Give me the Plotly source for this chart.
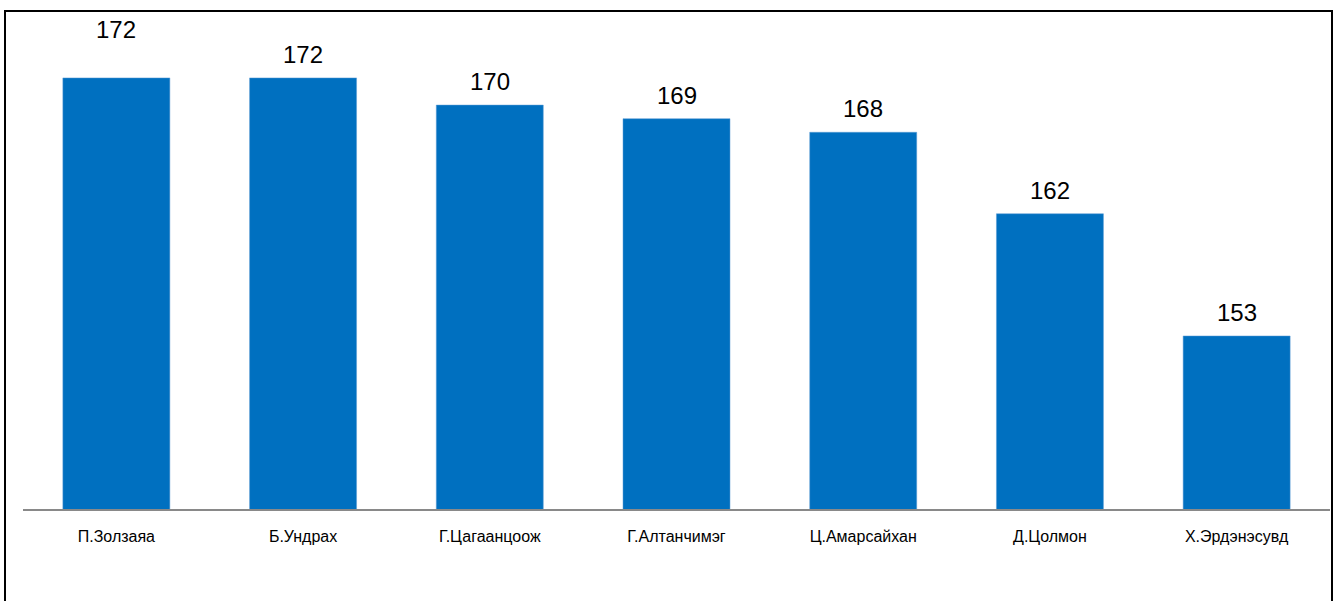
import plotly.graph_objects as go

names = ["П.Золзаяа", "Б.Ундрах", "Г.Цагаанцоож", "Г.Алтанчимэг", "Ц.Амарсайхан", "Д.Цолмон", "Х.Эрдэнэсувд"]
values = [172, 172, 170, 169, 168, 162, 153]

W, H = 1336, 601
ml, mr, mt, mb = 23, 6, 24, 92
pw, ph = W - ml - mr, H - mt - mb

fig = go.Figure()
fig.add_trace(go.Bar(
    x=names, y=values,
    marker=dict(color="#0070C0", line=dict(color="#5B9BD5", width=0.5)),
    width=0.573,
    hoverinfo="x+y",
))

for i, (n, v) in enumerate(zip(names, values)):
    fig.add_annotation(
        x=n, y=v, text=str(v), showarrow=False,
        yanchor="bottom", yshift=33 if i == 0 else 8,
        font=dict(family="Liberation Sans, Arial, sans-serif", size=24, color="#000000"),
    )

def px_x(p):
    return (p - ml) / pw

def px_y(p):
    return (H - mb - p) / ph

fig.add_shape(
    type="rect", xref="paper", yref="paper",
    x0=px_x(5), x1=px_x(1332), y0=px_y(620), y1=px_y(11),
    line=dict(color="#000000", width=2), fillcolor="rgba(0,0,0,0)", layer="above",
)

fig.update_layout(
    width=W, height=H,
    margin=dict(l=ml, r=mr, t=mt, b=mb),
    paper_bgcolor="#FFFFFF", plot_bgcolor="#FFFFFF",
    showlegend=False,
    font=dict(family="Liberation Sans, Arial, sans-serif", color="#000000"),
    xaxis=dict(
        showline=True, linecolor="#898989", linewidth=1.5,
        ticks="", showgrid=False, zeroline=False,
        tickfont=dict(size=16, color="#000000"),
        ticklabelstandoff=12,
    ),
    yaxis=dict(
        range=[140.26, 175.97], visible=False, showgrid=False, zeroline=False,
    ),
)

fig.write_html(
    "out.html",
    config={"displayModeBar": False},
    post_script="document.body.style.margin='0';document.body.style.overflow='hidden';",
)
